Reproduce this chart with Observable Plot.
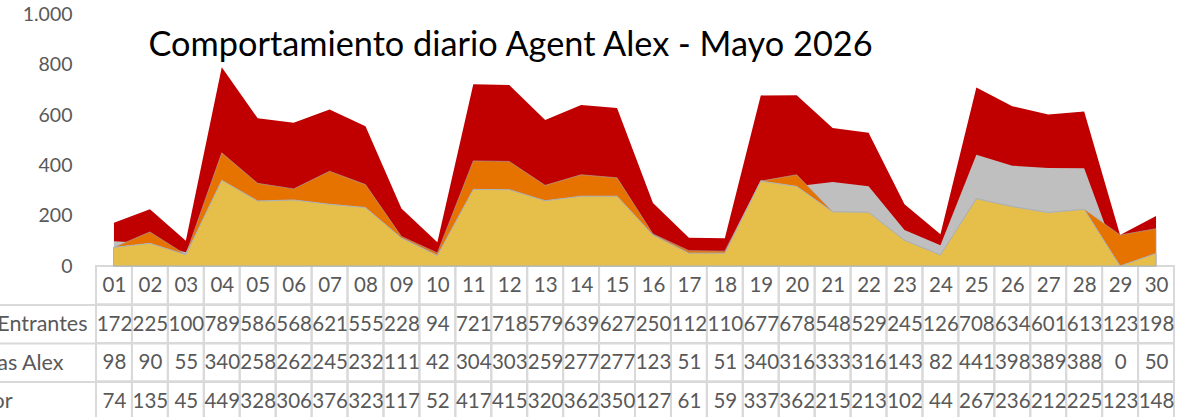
<!DOCTYPE html>
<html><head><meta charset="utf-8">
<script src="https://cdn.jsdelivr.net/npm/d3@7"></script>
<script src="https://cdn.jsdelivr.net/npm/@observablehq/plot@0.6"></script>
<style>
body{margin:0;background:#fff;}
#wrap{position:relative;width:1197px;height:417px;overflow:hidden;background:#fff;}
#wrap svg{position:absolute;left:0;}
</style></head><body><div id="wrap"></div>
<script>
const title = "Comportamiento diario Agent Alex - Mayo 2026";
const days = ["01","02","03","04","05","06","07","08","09","10","11","12","13","14","15","16","17","18","19","20","21","22","23","24","25","26","27","28","29","30"];
const entrantes = [172,225,100,789,586,568,621,555,228,94,721,718,579,639,627,250,112,110,677,678,548,529,245,126,708,634,601,613,123,198];
const alex      = [98,90,55,340,258,262,245,232,111,42,304,303,259,277,277,123,51,51,340,316,333,316,143,82,441,398,389,388,0,50];
const asesor    = [74,135,45,449,328,306,376,323,117,52,417,415,320,362,350,127,61,59,337,362,215,213,102,44,267,236,212,225,123,148];
// yellow layer (overlap of the two answered series)
const comun     = [74,90,45,340,258,262,245,232,111,42,304,303,259,277,277,123,51,51,337,316,215,213,102,44,267,236,212,225,0,50];
const rowNames = ["Llamadas Entrantes","Atendidas Alex","Atendidas Asesor"];
const yTicks = [0,200,400,600,800,1000];

const FONT = "Lato, 'Open Sans', sans-serif";
const toRows = arr => days.map((d,i)=>({day:d, v:arr[i]}));

const fmt = d => d3.format(",")(d).replace(/,/g,".");

const chartSvg = Plot.plot({
  width:1197, height:290, marginTop:14, marginBottom:24, marginLeft:96, marginRight:23,
  style:{background:"transparent", overflow:"visible", fontFamily:FONT, fontSize:"19.5px", color:"#595959"},
  x:{type:"band", domain:days, padding:0, round:false, axis:null},
  y:{domain:[0,1000], ticks:yTicks, tickFormat:fmt, tickSize:0, tickPadding:24, label:null},
  marks:[
    Plot.areaY(toRows(entrantes),{x:"day", y:"v", fill:"#C00000"}),
    Plot.areaY(toRows(alex),{x:"day", y:"v", fill:"#BFBFBF"}),
    Plot.areaY(toRows(asesor),{x:"day", y:"v", fill:"#E67300", stroke:"#A6A6A6", strokeWidth:0.8, strokeOpacity:0.8}),
    Plot.areaY(toRows(comun),{x:"day", y:"v", fill:"#E6BE4A", stroke:"#A9B3C1", strokeWidth:1}),
    Plot.text([title], {frameAnchor:"top-left", textAnchor:"start", lineAnchor:"top", dx:52, dy:17, fontSize:34.3, fill:"#000", fontFamily:FONT})
  ]
});

const rowKeys = ["hdr","Entrantes","Alex","Asesor"];
const series = {Entrantes:entrantes, Alex:alex, Asesor:asesor};
const cells = [];
days.forEach((d,i)=>{
  cells.push({day:d,row:"hdr",label:d});
  for (const k of ["Entrantes","Alex","Asesor"]) cells.push({day:d,row:k,label:String(series[k][i])});
});
const labelMark = (row, label, dx) => Plot.text([{row, label}], {y:"row", text:"label", frameAnchor:"left", textAnchor:"end", dx, fontSize:21.5, fill:"#595959", fontFamily:FONT});

const tableSvg = Plot.plot({
  width:1197, height:154, marginTop:0, marginBottom:0, marginLeft:96, marginRight:23,
  style:{background:"transparent", overflow:"visible", fontFamily:FONT, fontSize:"20px", color:"#595959"},
  x:{type:"band", domain:days, padding:0, round:false, axis:null},
  y:{type:"band", domain:rowKeys, padding:0, round:false, axis:null},
  marks:[
    Plot.ruleY(["Entrantes","Alex","Asesor"], {y:d=>d, dy:-19.25, insetLeft:-96, stroke:"#D9D9D9", strokeWidth:2}),
    Plot.cell(cells, {x:"day", y:"row", fill:"none", stroke:"#D9D9D9", strokeWidth:2}),
    Plot.text(cells, {x:"day", y:"row", text:"label", fontSize:20.5, fill:"#595959", fontFamily:FONT}),
    labelMark("Entrantes", rowNames[0], -9),
    labelMark("Alex", rowNames[1], -33),
    labelMark("Asesor", rowNames[2], -84)
  ]
});

const wrap = document.getElementById("wrap");
tableSvg.style.top = "266px";
chartSvg.style.top = "0px";
wrap.appendChild(tableSvg);
wrap.appendChild(chartSvg);
</script></body></html>
